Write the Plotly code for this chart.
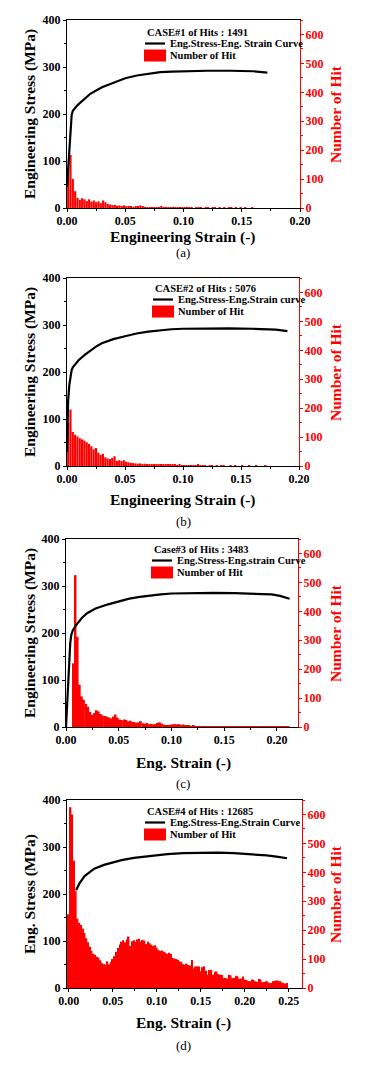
import plotly.graph_objects as go

PAGE_OFF = 8                 # default body margin of the html page
W, H = 367 - PAGE_OFF, 1065 - PAGE_OFF
SERIF = "Liberation Serif"
RED = "#ff0000"
BW = 0.002  # histogram bin width

# ---------------- Panel (a) ----------------
a_strain = [0.0, 0.001, 0.002, 0.003, 0.004, 0.005, 0.006, 0.008, 0.010, 0.015, 0.020, 0.030,
            0.040, 0.050, 0.060, 0.070, 0.080, 0.090, 0.100, 0.120, 0.140, 0.160, 0.172]
a_stress = [45, 85, 125, 165, 198, 207, 211, 216, 221, 232, 243, 257,
            267, 276, 282, 286, 289, 290, 291, 292, 292, 291, 288]
a_bin0 = 0.001
a_hits = [130, 183, 100, 58, 35, 28, 34, 30, 24, 30, 22, 26, 20, 23, 17, 26, 20, 14, 12, 10,
          11, 8, 9, 7, 9, 7, 4, 5, 3, 4, 6, 9, 6, 3, 2, 3, 2, 1, 2, 3,
          5, 2, 1, 3, 2, 1, 2, 3, 1, 2, 1, 1, 2, 1, 0, 1, 2, 1, 0, 1,
          1, 0, 1, 2, 0, 1, 0, 1, 0, 1, 1, 0, 2, 0, 1, 0, 1, 0, 0, 1]

# ---------------- Panel (b) ----------------
b_strain = [0.0, 0.001, 0.002, 0.003, 0.004, 0.005, 0.007, 0.010, 0.015, 0.020, 0.025, 0.030,
            0.040, 0.050, 0.060, 0.070, 0.080, 0.090, 0.100, 0.120, 0.140, 0.160, 0.180, 0.190]
b_stress = [30, 140, 172, 192, 204, 210, 217, 225, 236, 246, 254, 261,
            270, 276, 282, 286, 289, 291, 292, 293, 293, 292, 290, 287]
b_bin0 = 0.001
b_hits = [150, 195, 118, 108, 102, 96, 92, 88, 82, 76, 68, 58, 62, 46, 38, 42, 30, 26, 24, 28,
          34, 18, 20, 17, 20, 15, 13, 11, 10, 9, 8, 9, 7, 8, 6, 7, 6, 5, 6, 5,
          6, 4, 5, 6, 4, 5, 4, 3, 4, 3, 2, 3, 2, 2, 1, 2, 4, 1, 1, 1,
          0, 1, 1, 0, 1, 0, 1, 1, 0, 0, 1, 0, 1, 0, 0, 1, 0, 0, 1, 0,
          0, 1, 0, 0, 0, 1, 0, 0, 0, 0]

# ---------------- Panel (c) ----------------
c_strain = [0.0, 0.001, 0.002, 0.003, 0.004, 0.005, 0.0065, 0.010, 0.015, 0.020, 0.028, 0.040,
            0.050, 0.060, 0.070, 0.080, 0.090, 0.100, 0.120, 0.140, 0.160, 0.180, 0.195, 0.203,
            0.208, 0.212]
c_stress = [0, 50, 110, 150, 178, 196, 206, 218, 232, 242, 252, 261,
            267, 273, 277, 280, 282, 284, 285, 285.5, 285, 284, 282, 279,
            276, 273]
c_bin0 = 0.001
c_hits = [0, 0, 0, 220, 525, 312, 146, 106, 94, 80, 70, 52, 42, 48, 58, 54, 45, 40, 38, 36,
          33, 30, 36, 43, 32, 26, 24, 26, 25, 20, 22, 18, 17, 15, 16, 20, 13, 12, 14, 10,
          11, 9, 10, 14, 16, 12, 8, 7, 6, 8, 9, 10, 9, 10, 8, 9, 6, 5, 4, 3,
          4, 3, 3, 2, 3, 2, 2, 3, 2, 1, 2, 3, 2, 1, 2, 2, 1, 3, 2, 1,
          2, 1, 2, 3, 1, 2, 1, 1, 2, 1, 1, 2, 1, 1, 2, 1, 1, 1, 1, 2,
          1, 1, 1, 1, 1, 1]

# ---------------- Panel (d) ----------------
d_strain = [0.0083, 0.012, 0.018, 0.029, 0.040, 0.052, 0.060, 0.074, 0.090, 0.112, 0.130,
            0.150, 0.170, 0.1875, 0.205, 0.225, 0.238, 0.248]
d_stress = [208, 222, 238, 254, 262, 269, 272, 277, 281, 285, 287,
            288, 288, 287, 285, 282, 279, 276]
d_bin0 = 0.0
d_hits = [255, 625, 600, 440, 335, 240, 225, 218, 205, 190, 172, 158, 143, 128, 118, 115, 108, 104, 96, 86,
          82, 80, 92, 82, 90, 100, 110, 125, 138, 150, 160, 165, 158, 168, 178, 145, 162, 165, 160, 168,
          170, 160, 166, 164, 152, 160, 155, 150, 145, 148, 140, 132, 128, 130, 125, 122, 118, 122, 118, 104,
          102, 100, 98, 92, 90, 82, 80, 84, 80, 78, 97, 68, 74, 75, 74, 58, 72, 75, 60, 46,
          62, 63, 46, 56, 57, 48, 46, 45, 34, 35, 33, 46, 44, 34, 35, 42, 40, 31, 33, 40,
          29, 28, 24, 23, 29, 28, 23, 22, 31, 30, 20, 21, 23, 22, 17, 17, 23, 24, 26, 25,
          23, 20, 17, 15, 17]

panels = [
    dict(strain=a_strain, stress=a_stress, bin0=a_bin0, hits=a_hits,
         legend_title="CASE#1 of Hits : 1491", line_name="Eng.Stress-Eng. Strain Curve",
         ytitle="Engineering Stress (MPa)", xtitle="Engineering Strain (-)", caption="(a)",
         xrange=[0, 0.2], xdtick=0.05,
         box=(67, 300, 20, 208), leg=(145, 32), xt_y=237, cap_y=253),
    dict(strain=b_strain, stress=b_stress, bin0=b_bin0, hits=b_hits,
         legend_title="CASE#2 of Hits : 5076", line_name="Eng.Stress-Eng.Strain curve",
         ytitle="Engineering Stress (MPa)", xtitle="Engineering Strain (-)", caption="(b)",
         xrange=[0, 0.2], xdtick=0.05,
         box=(67, 299, 278, 466), leg=(153, 288), xt_y=500, cap_y=522),
    dict(strain=c_strain, stress=c_stress, bin0=c_bin0, hits=c_hits,
         legend_title="Case#3 of Hits : 3483", line_name="Eng.Stress-Eng.strain Curve",
         ytitle="Engineering Stress (MPa)", xtitle="Eng. Strain (-)", caption="(c)",
         xrange=[0, 0.22], xdtick=0.05,
         box=(66, 298, 539, 727), leg=(152, 549), xt_y=763, cap_y=783),
    dict(strain=d_strain, stress=d_stress, bin0=d_bin0, hits=d_hits,
         legend_title="CASE#4 of Hits : 12685", line_name="Eng.Stress-Eng.Strain Curve",
         ytitle="Eng. Stress (MPa)", xtitle="Eng. Strain (-)", caption="(d)",
         xrange=[-0.002, 0.265], xdtick=0.05,
         box=(67, 302, 800, 988), leg=(145, 811), xt_y=1023, cap_y=1045),
]

fig = go.Figure()
layout = dict(width=W, height=H, margin=dict(l=0, r=0, t=0, b=0, autoexpand=False),
              paper_bgcolor="white", plot_bgcolor="rgba(0,0,0,0)",
              showlegend=False, barmode="overlay", annotations=[], shapes=[])

tickfont_k = dict(family=SERIF, size=12, color="black", weight="bold")
tickfont_r = dict(family=SERIF, size=12, color=RED, weight="bold")
legfont = dict(family=SERIF, size=10.5, color="black", weight="bold")


def px_x(p):
    return (p - PAGE_OFF) / W


def px_y(p):
    return 1 - (p - PAGE_OFF) / H


for i, p in enumerate(panels):
    xid = i + 1
    yb = 2 * i + 1   # base axis: hits (right)
    yo = 2 * i + 2   # overlay axis: stress (left)
    xname = "x" if xid == 1 else f"x{xid}"
    ybname = "y" if yb == 1 else f"y{yb}"
    yoname = f"y{yo}"

    centers = [p["bin0"] + k * BW for k in range(len(p["hits"]))]

    fig.add_trace(go.Scatter(x=p["strain"], y=p["stress"], mode="lines",
                             line=dict(color="black", width=2.2),
                             name=p["line_name"], xaxis=xname, yaxis=yoname))
    fig.add_trace(go.Bar(x=centers, y=p["hits"], width=BW * 0.92,
                         marker=dict(color=RED, line=dict(width=0)),
                         name="Number of Hit", xaxis=xname, yaxis=ybname))

    x0, x1, y0, y1 = p["box"]
    xdom = [px_x(x0), px_x(x1)]
    ydom = [px_y(y1), px_y(y0)]

    layout["xaxis" if xid == 1 else f"xaxis{xid}"] = dict(
        domain=xdom, anchor=ybname, range=p["xrange"], tick0=0, dtick=p["xdtick"],
        tickformat=".2f", showline=True, linecolor="black", linewidth=1.3, mirror=True,
        ticks="outside", ticklen=3, tickwidth=1.2, tickcolor="black",
        minor=dict(dtick=p["xdtick"] / 2, tick0=0, ticks="outside", ticklen=2,
                   tickcolor="black", showgrid=False),
        showgrid=False, zeroline=False, tickfont=tickfont_k, automargin=False,
        ticklabelstandoff=-2)
    layout["yaxis" if yb == 1 else f"yaxis{yb}"] = dict(
        domain=ydom, anchor=xname, side="right", range=[0, 650], dtick=100, tick0=0,
        showline=True, linecolor=RED, linewidth=1.3,
        ticks="outside", ticklen=3, tickwidth=1.2, tickcolor=RED,
        minor=dict(dtick=50, tick0=0, ticks="outside", ticklen=2, tickcolor=RED, showgrid=False),
        showgrid=False, zeroline=False, tickfont=tickfont_r, automargin=False,
        ticklabelstandoff=-1)
    layout[f"yaxis{yo}"] = dict(
        overlaying=ybname, anchor=xname, side="left", range=[0, 400], dtick=100, tick0=0,
        showline=True, linecolor="black", linewidth=1.3,
        ticks="outside", ticklen=3, tickwidth=1.2, tickcolor="black",
        minor=dict(dtick=50, tick0=0, ticks="outside", ticklen=2, tickcolor="black", showgrid=False),
        showgrid=False, zeroline=False, tickfont=tickfont_k, automargin=False,
        ticklabelstandoff=0)

    # manual legend (title, line sample, bar swatch)
    lx, ly = p["leg"]
    layout["annotations"] += [
        dict(text=p["legend_title"], x=px_x(lx), y=px_y(ly), xref="paper", yref="paper",
             showarrow=False, xanchor="left", yanchor="middle", font=legfont),
        dict(text=p["line_name"], x=px_x(lx + 23), y=px_y(ly + 11.5), xref="paper", yref="paper",
             showarrow=False, xanchor="left", yanchor="middle", font=legfont),
        dict(text="Number of Hit", x=px_x(lx + 23), y=px_y(ly + 23.5), xref="paper", yref="paper",
             showarrow=False, xanchor="left", yanchor="middle", font=legfont),
    ]
    layout["shapes"] += [
        dict(type="line", xref="paper", yref="paper",
             x0=px_x(lx), x1=px_x(lx + 20), y0=px_y(ly + 11.5), y1=px_y(ly + 11.5),
             line=dict(color="black", width=2.2)),
        dict(type="rect", xref="paper", yref="paper",
             x0=px_x(lx - 1), x1=px_x(lx + 21), y0=px_y(ly + 29.5), y1=px_y(ly + 17.5),
             line=dict(width=0), fillcolor=RED),
    ]

    ymid = px_y((y0 + y1) / 2)
    layout["annotations"] += [
        dict(text=p["ytitle"], x=px_x(30), y=ymid, xref="paper", yref="paper",
             textangle=-90, showarrow=False, xanchor="center", yanchor="middle",
             font=dict(family=SERIF, size=15.5, color="black", weight="bold")),
        dict(text="Number of Hit", x=px_x(335), y=ymid, xref="paper", yref="paper",
             textangle=-90, showarrow=False, xanchor="center", yanchor="middle",
             font=dict(family=SERIF, size=15.5, color=RED, weight="bold")),
        dict(text=p["xtitle"], x=px_x(183), y=px_y(p["xt_y"]), xref="paper", yref="paper",
             showarrow=False, xanchor="center", yanchor="middle",
             font=dict(family=SERIF, size=15.5, color="black", weight="bold")),
        dict(text=p["caption"], x=px_x(183), y=px_y(p["cap_y"]), xref="paper", yref="paper",
             showarrow=False, xanchor="center", yanchor="middle",
             font=dict(family=SERIF, size=13, color="black")),
    ]

fig.update_layout(**layout)
fig.write_html("out.html")
